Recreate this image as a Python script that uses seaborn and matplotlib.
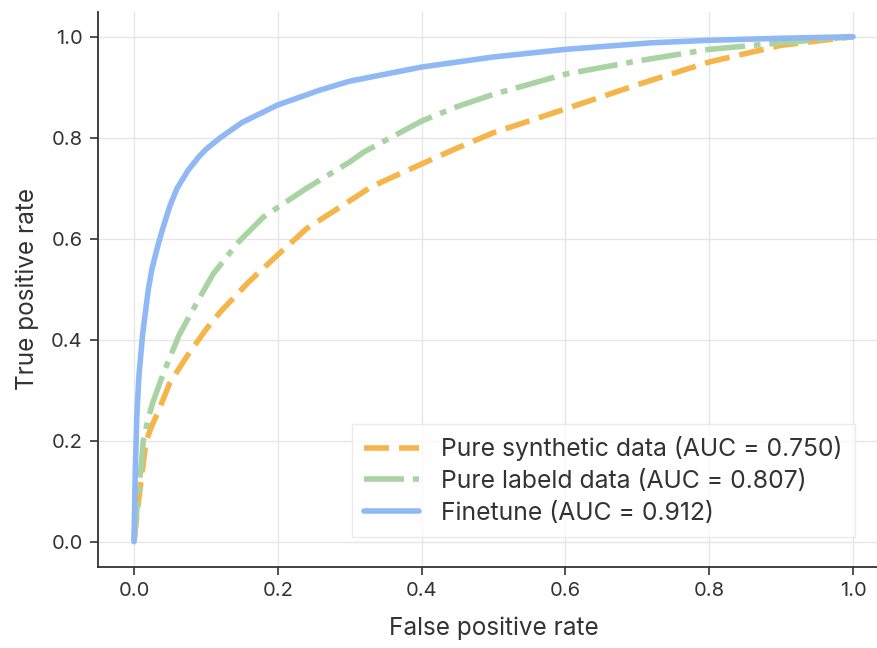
import matplotlib
matplotlib.use("Agg")
import matplotlib.pyplot as plt
import seaborn as sns
import pandas as pd

# ROC points
synth_fpr = [0, 0.004, 0.008, 0.017, 0.025, 0.033, 0.05, 0.075, 0.1, 0.12, 0.14, 0.16, 0.2,
             0.24, 0.3, 0.33, 0.4, 0.45, 0.5, 0.6, 0.7, 0.8, 0.9, 1.0]
synth_tpr = [0, 0.05, 0.1, 0.2, 0.23, 0.255, 0.315, 0.37, 0.42, 0.455, 0.485, 0.515, 0.568,
             0.62, 0.675, 0.703, 0.748, 0.78, 0.81, 0.857, 0.905, 0.95, 0.983, 1.0]

label_fpr = [0, 0.004, 0.008, 0.013, 0.02, 0.026, 0.04, 0.063, 0.09, 0.11, 0.145, 0.18, 0.24,
             0.3, 0.32, 0.4, 0.45, 0.5, 0.6, 0.7, 0.8, 0.9, 1.0]
label_tpr = [0, 0.06, 0.12, 0.2, 0.245, 0.275, 0.33, 0.41, 0.48, 0.53, 0.593, 0.643, 0.70,
             0.752, 0.772, 0.833, 0.862, 0.886, 0.926, 0.952, 0.975, 0.988, 1.0]

fine_fpr = [0, 0.002, 0.004, 0.007, 0.012, 0.02, 0.025, 0.033, 0.04, 0.05, 0.06, 0.075, 0.09,
            0.1, 0.12, 0.15, 0.2, 0.26, 0.3, 0.4, 0.5, 0.6, 0.72, 0.8, 0.9, 1.0]
fine_tpr = [0, 0.15, 0.25, 0.33, 0.41, 0.50, 0.54, 0.585, 0.62, 0.665, 0.70, 0.735, 0.762,
            0.777, 0.80, 0.83, 0.865, 0.895, 0.912, 0.94, 0.96, 0.975, 0.988, 0.993, 0.997, 1.0]

labels = ["Pure synthetic data (AUC = 0.750)",
          "Pure labeld data (AUC = 0.807)",
          "Finetune (AUC = 0.912)"]

sns.set_theme(style="ticks", rc={
    "axes.grid": True,
    "grid.color": "#e6e6e6",
    "grid.linewidth": 1.0,
    "axes.edgecolor": "#333333",
    "axes.linewidth": 1.3,
    "xtick.major.size": 6,
    "ytick.major.size": 6,
    "xtick.major.width": 1.2,
    "ytick.major.width": 1.2,
    "text.color": "#333333",
    "axes.labelcolor": "#333333",
    "xtick.color": "#333333",
    "ytick.color": "#333333",
})
plt.rcParams["font.family"] = ["Inter", "DejaVu Sans"]

fig = plt.figure(figsize=(8.78, 6.48), dpi=100)
ax = fig.add_axes([98 / 878, 81 / 648, 791 / 878, 555.5 / 648])

df_s = pd.DataFrame({"fpr": synth_fpr, "tpr": synth_tpr})
df_l = pd.DataFrame({"fpr": label_fpr, "tpr": label_tpr})
df_f = pd.DataFrame({"fpr": fine_fpr, "tpr": fine_tpr})

sns.lineplot(data=df_s, x="fpr", y="tpr", sort=False, ax=ax, color="#f5b54a",
             lw=4, linestyle=(0, (4.5, 1.8)), label=labels[0])
sns.lineplot(data=df_l, x="fpr", y="tpr", sort=False, ax=ax, color="#a9d3a3",
             lw=4, linestyle=(0, (7.2, 1.6, 1.2, 1.6)), label=labels[1])
sns.lineplot(data=df_f, x="fpr", y="tpr", sort=False, ax=ax, color="#8fb8f5",
             lw=4, label=labels[2])

ax.set_xlim(-0.05, 1.05)
ax.set_ylim(-0.05, 1.05)
ax.set_xticks([0, 0.2, 0.4, 0.6, 0.8, 1.0])
ax.set_yticks([0, 0.2, 0.4, 0.6, 0.8, 1.0])
ax.tick_params(labelsize=14.5, pad=5)
ax.set_xlabel("False positive rate", fontsize=17.5, labelpad=12)
ax.set_ylabel("True positive rate", fontsize=17.5, labelpad=9)
sns.despine(ax=ax)

leg = ax.legend(loc="lower right", bbox_to_anchor=(855 / 878, 1 - 537 / 648),
                bbox_transform=fig.transFigure, borderaxespad=0, fontsize=17.8,
                handlelength=2.2, handletextpad=0.9, borderpad=0.5,
                frameon=True, fancybox=False, labelspacing=0.35)
leg.get_frame().set_edgecolor("#e6e6e6")
leg.get_frame().set_linewidth(1.0)

fig.savefig("out.png", dpi=100)
